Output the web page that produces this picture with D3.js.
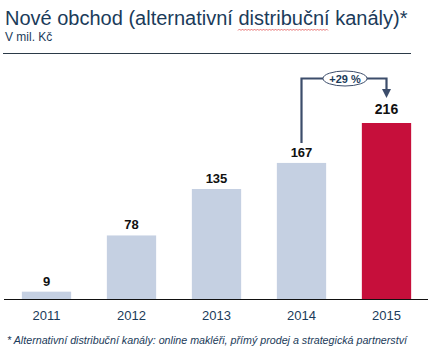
<!DOCTYPE html>
<html><head><meta charset="utf-8">
<script src="https://cdn.jsdelivr.net/npm/d3@7"></script>
<style>html,body{margin:0;padding:0;background:#fff;}svg{display:block;}</style>
</head><body>
<script>
const years = ["2011","2012","2013","2014","2015"];
const values = [9, 78, 135, 167, 216];
const growthLabel = "+29 %";
const title = "Nové obchod (alternativní distribuční kanály)*";
const subtitle = "V mil. Kč";
const footnote = "* Alternativní distribuční kanály: online makléři, přímý prodej a strategická partnerství";

const W = 441, H = 357;
const textCol = "#1b3b5a";
const svg = d3.select("body").append("svg").attr("width", W).attr("height", H)
  .style("font-family", "Arial, 'Liberation Sans', sans-serif");

// Title
svg.append("text").attr("x", 5).attr("y", 25).attr("font-size", 20).attr("fill", textCol).text(title);
svg.append("text").attr("x", 5).attr("y", 40.5).attr("font-size", 12).attr("fill", textCol).text(subtitle);
svg.append("line").attr("x1", 3).attr("x2", 411).attr("y1", 53.5).attr("y2", 53.5)
  .attr("stroke", "#2b3a48").attr("stroke-width", 1);

// spellcheck squiggle under "distribuční"
(function(){
  let p = "M238,30.5";
  for (let x = 238, i = 0; x < 328; x += 1.5, i++) p += "L" + (x + 1.5) + "," + (i % 2 ? 30.5 : 29);
  svg.append("path").attr("d", p).attr("fill", "none").attr("stroke", "#e04040").attr("stroke-width", 0.7);
})();

const x = d3.scaleBand().domain(years).range([4, 429]).paddingInner(0.42).paddingOuter(0.21);
const y = d3.scaleLinear().domain([0, 216]).range([299, 123]);

svg.selectAll("rect.bar").data(years).enter().append("rect")
  .attr("x", d => x(d)).attr("width", x.bandwidth())
  .attr("y", (d, i) => y(values[i])).attr("height", (d, i) => y(0) - y(values[i]))
  .attr("fill", (d, i) => i === years.length - 1 ? "#c60f3b" : "#c5d0e2");

svg.selectAll("text.val").data(years).enter().append("text")
  .attr("x", d => x(d) + x.bandwidth() / 2).attr("y", (d, i) => y(values[i]) - (i === years.length - 1 ? 9 : 6))
  .attr("text-anchor", "middle").attr("font-weight", "bold")
  .attr("font-size", (d, i) => i === years.length - 1 ? 14 : 13).attr("fill", "#111")
  .text((d, i) => values[i]);

// Axis
const axis = svg.append("g").attr("transform", `translate(0,${y(0)})`)
  .call(d3.axisBottom(x).tickSize(0).tickPadding(0));
axis.select(".domain").remove();
axis.selectAll("text").attr("font-size", 13).attr("fill", textCol).attr("dy", null).attr("y", 21)
  .style("font-family", "Arial, 'Liberation Sans', sans-serif");
svg.append("line").attr("x1", 4).attr("x2", 428).attr("y1", y(0) + 0.5).attr("y2", y(0) + 0.5)
  .attr("stroke", "#111").attr("stroke-width", 1.2);

// Growth annotation
const aCol = "#3c4d6b";
const x1 = x("2014") + x.bandwidth() / 2, x2 = x("2015") + x.bandwidth() / 2;
const yTop = 78.5, yStart = y(167) - 20, yEnd = y(216) - 25;
svg.append("path").attr("d", `M${x1},${yStart}V${yTop}H${x2}V${yEnd - 8}`)
  .attr("fill", "none").attr("stroke", aCol).attr("stroke-width", 2.2);
svg.append("path").attr("d", `M${x2 - 4.5},${yEnd - 9}L${x2 + 4.5},${yEnd - 9}L${x2},${yEnd}Z`).attr("fill", aCol);
const ex = (x1 + x2) / 2 + 1;
svg.append("ellipse").attr("cx", ex).attr("cy", yTop).attr("rx", 22).attr("ry", 7.5)
  .attr("fill", "#fff").attr("stroke", aCol).attr("stroke-width", 1);
svg.append("text").attr("x", ex).attr("y", yTop + 4).attr("text-anchor", "middle")
  .attr("font-size", 11).attr("font-weight", "bold").attr("fill", textCol).text(growthLabel);

// Footnote
svg.append("text").attr("x", 7).attr("y", 344).attr("font-size", 10.7).attr("font-style", "italic")
  .attr("fill", textCol).text(footnote);
</script>
</body></html>
